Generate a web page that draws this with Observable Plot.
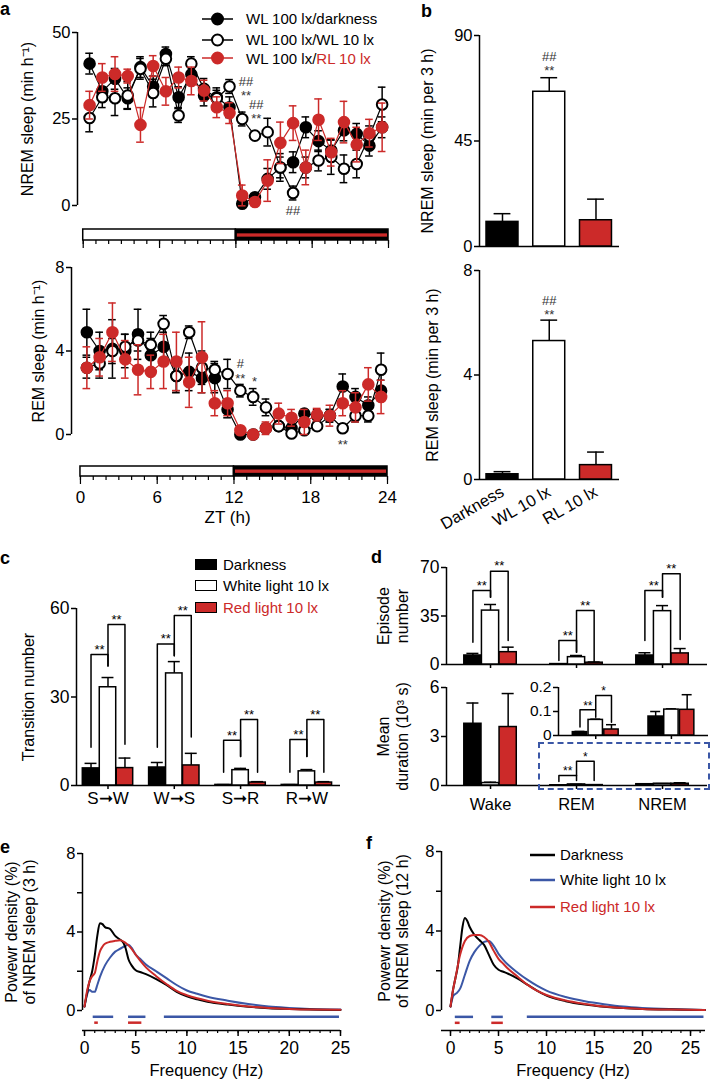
<!DOCTYPE html>
<html><head><meta charset="utf-8">
<script src="https://cdn.jsdelivr.net/npm/d3@7"></script>
<script src="https://cdn.jsdelivr.net/npm/@observablehq/plot@0.6"></script>
<style>
body{margin:0;background:#fff;}
#root{position:relative;width:711px;height:1086px;overflow:hidden;font-family:"Liberation Sans",Arial,Helvetica,sans-serif;color:#000;}
.plbl{position:absolute;font-weight:bold;font-size:18px;line-height:1;}
.leg{position:absolute;font-size:15px;line-height:1;white-space:nowrap;display:flex;align-items:center;}
.box{position:absolute;border:2px dashed #3b57a6;box-sizing:border-box;}
</style></head><body><div id="root"></div>
<script>
// ---------------- DATA ----------------
// Panel a: hourly sleep (ZT)
const ztHours = [0.5,1.5,2.5,3.5,4.5,5.5,6.5,7.5,8.5,9.5,10.5,11.5,12.5,13.5,14.5,15.5,16.5,17.5,18.5,19.5,20.5,21.5,22.5,23.5];
const nremDark    = [41,33,36.6,31,40,34.4,43.8,31.3,37.9,31.8,31.3,28.4,0.5,2.4,7.7,11,12.5,22.6,18.6,15.9,21.7,20.7,17.3,22.6];
const nremDarkErr = [3,3,3,3,3,3,2,3,3,3,2,3,1,1,3,3,3,3,3,3,3,3,3,3];
const nremWL      = [25.3,31.3,31,31.8,39.5,32.5,42.4,26,41,33.7,31,34.4,25,20.2,21.2,11,3.6,11,13,14,10.6,12,20,29.2];
const nremWLErr   = [4,3,5,4,3,4,2,2,2,3,3,2,2,1,4,4,2,3,3,5,4,4,3,5];
const nremRL      = [29,37,38,37.4,23.3,40.3,33,37,36,33.2,28.4,26.7,2.9,1,7.2,18.1,23.8,11,24.8,15.4,24.1,17.6,20.9,22.6];
const nremRLErr   = [4,4,5,2,5,3,4,3,4,3,3,3,3,1,6,6,5,5,6,4,6,5,4,7];
const remDark     = [4.9,4.0,4.1,4.0,4.8,3.8,4.2,2.8,3.0,2.7,2.7,1.2,0,0,0.3,0.4,0.3,1.0,0.9,0.9,2.3,1.8,1.4,2.1];
const remDarkErr  = [1.1,0.9,1.4,0.8,1.2,0.8,0.9,0.8,0.9,0.7,0.7,0.4,0.1,0.1,0.2,0.2,0.2,0.2,0.3,0.3,0.6,0.4,0.4,0.5];
const remWL       = [3.2,3.4,4.0,4.2,4.5,4.3,5.3,2.8,4.9,3.2,3.1,2.9,2.1,1.8,1.3,0.4,0.05,0.2,0.4,0.9,0.3,0.9,0.9,3.1];
const remWLErr    = [0.5,0.7,0.6,0.6,0.5,0.6,0.4,0.7,0.3,0.8,0.4,0.7,0.3,0.4,0.4,0.2,0.1,0.1,0.2,0.3,0.2,0.3,0.3,0.8];
const remRL       = [3.2,3.7,4.9,3.6,3.1,3.0,3.5,3.5,2.5,3.7,1.5,1.5,0.2,0.0,0.3,1.0,0.8,0.6,0.95,0.9,1.5,1.3,2.4,1.8];
const remRLErr    = [1.0,0.9,1.4,0.9,1.2,0.8,1.3,1.4,1.2,1.7,0.6,0.6,0.2,0.1,0.3,0.5,0.4,0.6,0.3,0.5,0.6,0.7,0.8,0.8];
const lightSchedule = [{start:0,end:12,phase:"light"},{start:12,end:24,phase:"dark"}];
const hourTicks = [0,1,2,3,4,5,6,7,8,9,10,11,12,13,14,15,16,17,18,19,20,21,22,23,24];
const ztMajorTicks = [0,6,12,18,24];
const aLegend = ["WL 100 lx/darkness","WL 100 lx/WL 10 lx","WL 100 lx/RL 10 lx"];
const aTopNotes = [{zt:12.8,v:35.6,t:"##"},{zt:12.8,v:31.6,t:"**"},{zt:13.6,v:29,t:"##"},{zt:13.6,v:25.1,t:"**"},{zt:16.5,v:-1.5,t:"##"}];
const aBotNotes = [{zt:12.5,v:3.4,t:"#"},{zt:12.5,v:2.65,t:"**"},{zt:13.6,v:2.5,t:"*"},{zt:20.5,v:-0.5,t:"**"}];

// Panel b: 3-h totals
const conditionsB = ["Darkness","WL 10 lx","RL 10 lx"];
const nremB = [10.5, 66, 11.2];
const nremBErr = [3.5, 6, 9];
const remB = [0.2, 5.3, 0.55];
const remBErr = [0.1, 0.8, 0.5];
const bTopNotes = [{i:1,v:80.8,t:"##"},{i:1,v:75,t:"**"}];
const bBotNotes = [{i:1,v:6.85,t:"##"},{i:1,v:6.3,t:"**"}];

// Panel c: transitions
const transitions = ["S\u279EW","W\u279ES","S\u279ER","R\u279EW"];
const condNamesC = ["Darkness","White light 10 lx","Red light 10 lx"];
const transDark = [5.8, 6.1, 0.2, 0.2];
const transDarkErr = [1.7, 1.7, 0.1, 0.1];
const transWhite = [33.3, 38, 5.2, 4.8];
const transWhiteErr = [3.3, 4, 0.6, 0.6];
const transRed = [5.9, 6.8, 1.0, 1.0];
const transRedErr = [3.4, 4.1, 0.3, 0.3];
const cBrackets = [
  {g:0,a:0,b:1,top:44.4,ya:13,yb:40.5,label:"**"},{g:0,a:1,b:2,top:54.6,ya:40.5,yb:14,label:"**"},
  {g:1,a:0,b:1,top:48,ya:13,yb:44,label:"**"},{g:1,a:1,b:2,top:57.6,ya:44,yb:16.4,label:"**"},
  {g:2,a:0,b:1,top:15.3,ya:4.5,yb:9.8,label:"**"},{g:2,a:1,b:2,top:22.4,ya:9.8,yb:4.5,label:"**"},
  {g:3,a:0,b:1,top:15.6,ya:4.5,yb:9.8,label:"**"},{g:3,a:1,b:2,top:22.4,ya:9.8,yb:4.5,label:"**"}];

// Panel d: episodes
const states = ["Wake","REM","NREM"];
const epDark = [6.5, 0.3, 6.5];
const epDarkErr = [1.5, 0.1, 2];
const epWhite = [38.9, 5.3, 38.5];
const epWhiteErr = [4.4, 1.2, 4];
const epRed = [8.9, 1.3, 8];
const epRedErr = [3.6, 0.5, 3.5];
const durDark = [3.78, 0.014, 0.079];
const durDarkErr = [1.27, 0.003, 0.021];
const durWhite = [0.15, 0.065, 0.108];
const durWhiteErr = [0.05, 0.003, 0.003];
const durRed = [3.58, 0.025, 0.107];
const durRedErr = [2.05, 0.02, 0.063];
const dTopBrackets = [
  {g:0,a:0,b:1,top:53.4,ya:16,yb:48.5,label:"**"},{g:0,a:1,b:2,top:67.3,ya:48.5,yb:17.3,label:"**"},
  {g:1,a:0,b:1,top:17.3,ya:2.9,yb:8.9,label:"**"},{g:1,a:1,b:2,top:39,ya:8.9,yb:1.9,label:"**"},
  {g:2,a:0,b:1,top:53.4,ya:17.3,yb:48.5,label:"**"},{g:2,a:1,b:2,top:65.4,ya:48.5,yb:18,label:"**"}];
const dBotBrackets = [{g:1,a:0,b:1,top:0.61,ya:0.25,yb:0.3,label:"**"},{g:1,a:1,b:2,top:1.49,ya:0.6,yb:0.3,label:"*"}];
const insetBrackets = [{g:1,a:0,b:1,top:0.107,ya:0.035,yb:0.076,label:"**"},{g:1,a:1,b:2,top:0.167,ya:0.11,yb:0.055,label:"*"}];

// Panels e, f: power spectra [Hz, %]
const eDark = [[0,0.2],[0.25,0.9],[0.5,1.5],[0.75,2.0],[1,2.8],[1.25,3.8],[1.5,4.45],[1.75,4.4],[2,4.25],[2.5,4.15],[3,3.8],[3.5,3.6],[3.8,3.45],[4,3.2],[4.3,2.6],[4.6,2.3],[5,2.05],[5.5,1.95],[6,1.85],[7,1.6],[8,1.3],[9,0.95],[10,0.72],[11,0.57],[12,0.45],[14,0.3],[16,0.19],[18,0.12],[20,0.08],[22,0.05],[25,0.03]];
const eWhite = [[0,0.2],[0.25,0.8],[0.5,1.05],[0.75,0.95],[1,0.95],[1.25,1.3],[1.5,1.7],[2,2.3],[2.5,2.7],[3,3.0],[3.5,3.15],[4,3.3],[4.3,3.35],[4.6,3.2],[5,2.85],[5.5,2.6],[6,2.35],[7,2.0],[8,1.65],[9,1.3],[10,1.02],[11,0.85],[12,0.7],[14,0.5],[16,0.33],[18,0.2],[20,0.13],[22,0.08],[25,0.05]];
const eRed = [[0,0.2],[0.25,1.0],[0.5,1.5],[0.75,1.75],[1,1.9],[1.25,2.5],[1.5,3.0],[1.75,3.25],[2,3.4],[2.5,3.5],[3,3.55],[3.5,3.58],[4,3.45],[4.5,3.2],[5,2.85],[5.5,2.5],[6,2.2],[7,1.75],[8,1.35],[9,1.0],[10,0.78],[11,0.62],[12,0.5],[14,0.33],[16,0.2],[18,0.13],[20,0.08],[22,0.05],[25,0.04]];
const fDark = [[0,0.2],[0.25,1.0],[0.5,1.6],[0.75,2.2],[1,3.2],[1.25,4.2],[1.5,4.65],[1.75,4.5],[2,4.2],[2.5,3.8],[3,3.55],[3.5,3.3],[4,2.8],[4.5,2.3],[5,2.05],[5.5,1.95],[6,1.85],[7,1.6],[8,1.3],[9,1.0],[10,0.75],[12,0.47],[14,0.3],[16,0.19],[18,0.12],[20,0.08],[23,0.05],[26.5,0.03]];
const fWhite = [[0,0.2],[0.3,0.75],[0.7,0.9],[1,1.1],[1.5,1.8],[2,2.5],[2.5,2.95],[3,3.25],[3.5,3.45],[4,3.5],[4.5,3.25],[5,2.85],[5.5,2.55],[6,2.3],[7,1.9],[8,1.55],[9,1.25],[10,1.0],[12,0.68],[14,0.47],[16,0.32],[18,0.2],[20,0.13],[23,0.07],[26.5,0.03]];
const fRed = [[0,0.2],[0.25,1.0],[0.5,1.6],[1,2.8],[1.5,3.5],[2,3.75],[2.5,3.8],[3,3.8],[3.5,3.7],[4,3.45],[4.5,3.0],[5,2.6],[5.5,2.35],[6,2.1],[7,1.7],[8,1.3],[9,1.0],[10,0.78],[12,0.5],[14,0.33],[16,0.2],[18,0.13],[20,0.08],[23,0.05],[26.5,0.03]];
const eWhiteSig = [[0.85,2.85],[4.3,6.0],[7.8,24.9]];
const eRedSig = [[1.0,1.35],[4.3,5.6]];
const fWhiteSig = [[0.5,2.4],[4.3,5.5],[8.0,26.4]];
const fRedSig = [[0.5,1.0],[4.3,5.5]];
const freqMajor = [0,5,10,15,20,25];
const eFreqMinor = [0,1,2,3,4,5,6,7,8,9,10,11,12,13,14,15,16,17,18,19,20,21,22,23,24,25];
const fFreqMinor = [0,1,2,3,4,5,6,7,8,9,10,11,12,13,14,15,16,17,18,19,20,21,22,23,24,25,26];
const spectraLegend = ["Darkness","White light 10 lx","Red light 10 lx"];

// ---------------- STYLE / HELPERS ----------------
const FONT = '"Liberation Sans", Arial, Helvetica, sans-serif';
const RED = "#cc2a29";
const BLUE = "#3b57a6";
const FILLS = ["black","white",RED];
const YT = 16.5;   // y tick label size
const XT = 17.5;   // numeric x tick label size
const root = document.getElementById("root");
const baseStyle = {background:"transparent", overflow:"visible", fontFamily: FONT, fontSize:"16px", color:"black"};
function place(el, left, top) {
  el.style.position = "absolute"; el.style.left = left + "px"; el.style.top = top + "px";
  root.appendChild(el);
}
function html(str, cls, left, top) {
  const d = document.createElement("div"); d.className = cls; d.innerHTML = str;
  d.style.left = left + "px"; d.style.top = top + "px";
  root.appendChild(d); return d;
}
const blank = () => "";
const plain = d => String(d);
const sw = 1.5;

function hourlyRows(vals, errs) { return ztHours.map((zt, i) => ({zt, v: vals[i], e: errs[i]})); }
function hourlyMarks(rows, color, fill) {
  return [
    Plot.line(rows, {x:"zt", y:"v", stroke: color, strokeWidth: 1.2}),
    Plot.ruleX(rows, {x:"zt", y1: d => d.v - d.e, y2: d => d.v + d.e, stroke: color, strokeWidth: 1.5}),
    Plot.ruleY(rows, {y: d => d.v + d.e, x1: d => d.zt - 0.3, x2: d => d.zt + 0.3, stroke: color, strokeWidth: 1.5}),
    Plot.ruleY(rows, {y: d => d.v - d.e, x1: d => d.zt - 0.3, x2: d => d.zt + 0.3, stroke: color, strokeWidth: 1.5}),
    Plot.dot(rows, {x:"zt", y:"v", r: 5.3, fill, stroke: color, strokeWidth: 2})
  ];
}
function lightBarMarks(y1, y2, r1, r2) {
  return [
    Plot.rect(lightSchedule, {x1:"start", x2:"end", y1, y2, fill: d => d.phase === "light" ? "white" : "black", stroke:"black", strokeWidth: 1.5}),
    Plot.rect(lightSchedule.filter(d => d.phase === "dark"), {x1:"start", x2:"end", y1: r1, y2: r2, fill: RED, insetLeft: 1.5, insetRight: 1})
  ];
}
function groupedRows(n, vals, errs) {
  const rows = [];
  for (let g = 0; g < n; g++) vals.forEach((arr, c) => rows.push({g, c, v: arr[g], e: errs[c][g]}));
  return rows;
}
function groupedBarMarks(rows, off, hw, cap) {
  const cx = d => d.g + (d.c - 1) * off;
  return [
    Plot.ruleX(rows, {x: cx, y1: "v", y2: d => d.v + d.e, strokeWidth: sw}),
    Plot.ruleY(rows, {y: d => d.v + d.e, x1: d => cx(d) - cap, x2: d => cx(d) + cap, strokeWidth: sw}),
    Plot.rect(rows, {x1: d => cx(d) - hw, x2: d => cx(d) + hw, y1: 0, y2: "v", fill: d => FILLS[d.c], stroke: "black", strokeWidth: sw})
  ];
}
function bracketMarks(br, off, fontSize = 13, dy = -5) {
  const px = (g, c) => g + (c - 1) * off;
  const pts = br.flatMap((b, i) => [
    {id:i, x:px(b.g,b.a), y:b.ya}, {id:i, x:px(b.g,b.a), y:b.top},
    {id:i, x:px(b.g,b.b), y:b.top}, {id:i, x:px(b.g,b.b), y:b.yb}]);
  return [
    Plot.line(pts, {x:"x", y:"y", z:"id", stroke:"black", strokeWidth: sw}),
    Plot.text(br, {x: b => (px(b.g,b.a) + px(b.g,b.b)) / 2, y: "top", text: "label", dy, fontSize})
  ];
}
function yTitle(label, x, y, dx, lineHeight = 1.15) {
  return Plot.text([label], {x, y, dx, rotate: -90, fontSize: 16, lineHeight, textAnchor: "middle", lineAnchor: "middle"});
}
function yAxis(ticks, extra = {}) {
  return Plot.axisY({ticks, tickFormat: plain, tickSize: 5, tickPadding: 2, label: null, strokeWidth: sw, fontSize: YT, ...extra});
}

// ---------------- PANEL a (top: NREM) ----------------
{
  const AX = -0.45;
  const p = Plot.plot({
    width: 400, height: 250, marginLeft: 77, marginRight: 12, marginTop: 32, marginBottom: 10,
    x: {domain: [AX, 24]}, y: {domain: [-10.12, 50]}, style: baseStyle,
    marks: [
      Plot.ruleX([AX], {y1: 0, y2: 50, strokeWidth: sw}),
      yAxis([0,25,50]),
      yTitle("NREM sleep (min h\u207B\u00B9)", AX, 25, -50),
      ...lightBarMarks(-10.12, -6.94, -8.2, -9.15),
      Plot.axisX({ticks: hourTicks, tickSize: 4, tickFormat: blank, label: null, strokeWidth: 1.2}),
      Plot.axisX({ticks: ztMajorTicks, tickSize: 8, tickFormat: blank, label: null, strokeWidth: 1.2}),
      ...hourlyMarks(hourlyRows(nremDark, nremDarkErr), "black", "black"),
      ...hourlyMarks(hourlyRows(nremWL, nremWLErr), "black", "white"),
      ...hourlyMarks(hourlyRows(nremRL, nremRLErr), RED, RED),
      Plot.text(aTopNotes, {x:"zt", y:"v", text:"t", fontSize: 13, fill:"#333"})
    ]
  });
  place(p, 0, 0);
}
// ---------------- PANEL a (bottom: REM) ----------------
{
  const AX = -0.7;
  const p = Plot.plot({
    width: 400, height: 290, marginLeft: 71, marginRight: 13, marginTop: 17, marginBottom: 64,
    x: {domain: [AX, 24]}, y: {domain: [-2.012, 8]}, style: baseStyle,
    marks: [
      Plot.ruleX([AX], {y1: 0, y2: 8, strokeWidth: sw}),
      yAxis([0,4,8]),
      yTitle("REM sleep (min h\u207B\u00B9)", AX, 4, -33),
      ...lightBarMarks(-2.012, -1.533, -1.70, -1.86),
      Plot.axisX({ticks: hourTicks, tickSize: 4, tickFormat: blank, label: null, strokeWidth: 1.2}),
      Plot.axisX({ticks: ztMajorTicks, tickSize: 8, tickPadding: 6, label: null, strokeWidth: 1.2, fontSize: 17}),
      Plot.text(["ZT (h)"], {x: 11.5, frameAnchor: "bottom", dy: 46, fontSize: 17}),
      ...hourlyMarks(hourlyRows(remDark, remDarkErr), "black", "black"),
      ...hourlyMarks(hourlyRows(remWL, remWLErr), "black", "white"),
      ...hourlyMarks(hourlyRows(remRL, remRLErr), RED, RED),
      Plot.text(aBotNotes, {x:"zt", y:"v", text:"t", fontSize: 13, fill:"#333"})
    ]
  });
  place(p, 0, 250);
}
// legend a
{
  const styles = [["black","black"],["black","white"],[RED,RED]];
  const tops = [18.3, 39.3, 57.5];
  aLegend.forEach((txt, i) => {
    const [c, f] = styles[i];
    const label = i === 2 ? 'WL 100 lx/<span style="color:' + RED + '">RL 10 lx</span>' : txt;
    html('<svg width="36" height="14" style="overflow:visible;margin-right:10px"><line x1="2" y1="7" x2="33" y2="7" stroke="' + c + '" stroke-width="1.5"/><circle cx="17.5" cy="7" r="5.5" fill="' + f + '" stroke="' + c + '" stroke-width="2"/></svg>' + label,
      "leg", 200, tops[i] - 7);
  });
}

// ---------------- PANEL b ----------------
{
  const OFFB = -0.492, ENDB = 2.503, HW = 0.342, CAP = 0.18;
  const rowsTop = conditionsB.map((c, i) => ({i, v: nremB[i], e: nremBErr[i]}));
  const rowsBot = conditionsB.map((c, i) => ({i, v: remB[i], e: remBErr[i]}));
  const barMarks = rows => [
    Plot.ruleX(rows, {x:"i", y1:"v", y2: d => d.v + d.e, strokeWidth: sw}),
    Plot.ruleY(rows, {y: d => d.v + d.e, x1: d => d.i - CAP, x2: d => d.i + CAP, strokeWidth: sw}),
    Plot.rect(rows, {x1: d => d.i - HW, x2: d => d.i + HW, y1: 0, y2: "v", fill: d => FILLS[d.i], stroke:"black", strokeWidth: sw})
  ];
  const top = Plot.plot({
    width: 311, height: 260, marginLeft: 79, marginRight: 92, marginTop: 35, marginBottom: 14,
    x: {domain: [OFFB, ENDB], axis: null}, y: {domain: [0, 90]}, style: baseStyle,
    marks: [
      Plot.ruleX([OFFB], {y1: 0, y2: 90, strokeWidth: sw}),
      Plot.ruleY([0], {x1: OFFB, x2: ENDB, strokeWidth: sw}),
      yAxis([0,45,90]),
      yTitle("NREM sleep (min per 3 h)", OFFB, 45, -52),
      ...barMarks(rowsTop),
      Plot.text(bTopNotes, {x:"i", y:"v", text:"t", fontSize: 13, fill:"#333"})
    ]
  });
  place(top, 400, 0);
  const bot = Plot.plot({
    width: 311, height: 300, marginLeft: 79, marginRight: 92, marginTop: 20, marginBottom: 71,
    x: {domain: [OFFB, ENDB]}, y: {domain: [0, 8]}, style: baseStyle,
    marks: [
      Plot.ruleX([OFFB], {y1: 0, y2: 8, strokeWidth: sw}),
      Plot.ruleY([0], {x1: OFFB, x2: ENDB, strokeWidth: sw}),
      yAxis([0,4,8]),
      Plot.axisX({ticks: [0,1,2], tickFormat: i => conditionsB[i], tickRotate: -30, tickSize: 0, tickPadding: 11, label: null, fontSize: 16.5}),
      yTitle("REM sleep (min per 3 h)", OFFB, 4, -47),
      ...barMarks(rowsBot),
      Plot.text(bBotNotes, {x:"i", y:"v", text:"t", fontSize: 13, fill:"#333"})
    ]
  });
  place(bot, 400, 250);
}

// ---------------- PANEL c ----------------
{
  const AX = -0.475, END = 3.507, OFF = 0.256, HW = 0.124, CAP = 0.09;
  const rows = groupedRows(4, [transDark, transWhite, transRed], [transDarkErr, transWhiteErr, transRedErr]);
  const p = Plot.plot({
    width: 360, height: 300, marginLeft: 76, marginRight: 20, marginTop: 68, marginBottom: 55,
    x: {domain: [AX, END]}, y: {domain: [0, 60]}, style: baseStyle,
    marks: [
      Plot.ruleX([AX], {y1: 0, y2: 60, strokeWidth: sw}),
      Plot.ruleY([0], {x1: AX, x2: END, strokeWidth: sw}),
      yAxis([0,30,60], {fontSize: 17.5}),
      Plot.axisX({ticks: [0,1,2,3], tickFormat: i => transitions[i], tickSize: 4, tickPadding: 2, label: null, strokeWidth: sw, fontSize: 17}),
      yTitle("Transition number", AX, 30, -48),
      ...groupedBarMarks(rows, OFF, HW, CAP),
      ...bracketMarks(cBrackets, OFF)
    ]
  });
  place(p, 0, 540);
  const tops = [565, 586, 608];
  condNamesC.forEach((n, i) => {
    html('<span style="display:inline-block;width:20px;height:9px;border:1.5px solid #000;background:' + FILLS[i] + ';margin-right:6px"></span><span style="color:' + (i === 2 ? RED : "#000") + '">' + n + '</span>', "leg", 195, tops[i] - 8);
  });
}

// ---------------- PANEL d ----------------
{
  const AX = -0.512, END = 2.523, OFF = 0.205, HW = 0.1, CAP = 0.07;
  const rowsEp = groupedRows(3, [epDark, epWhite, epRed], [epDarkErr, epWhiteErr, epRedErr]);
  const top = Plot.plot({
    width: 351, height: 135, marginLeft: 86, marginRight: 4, marginTop: 27, marginBottom: 11,
    x: {domain: [AX, END]}, y: {domain: [0, 70]}, style: baseStyle,
    marks: [
      Plot.ruleX([AX], {y1: 0, y2: 70, strokeWidth: sw}),
      Plot.ruleY([0], {x1: AX, x2: END, strokeWidth: sw}),
      yAxis([0,35,70], {fontSize: 17.5}),
      Plot.axisX({ticks: [0,1,2], tickFormat: blank, tickSize: 4, label: null, strokeWidth: sw}),
      yTitle("Episode\nnumber", AX, 35, -54),
      ...groupedBarMarks(rowsEp, OFF, HW, CAP),
      ...bracketMarks(dTopBrackets, OFF)
    ]
  });
  place(top, 360, 540);
  const rowsDur = groupedRows(3, [durDark, durWhite, durRed], [durDarkErr, durWhiteErr, durRedErr]);
  const bot = Plot.plot({
    width: 351, height: 160, marginLeft: 86, marginRight: 4, marginTop: 12, marginBottom: 50,
    x: {domain: [AX, END]}, y: {domain: [0, 6]}, style: baseStyle,
    marks: [
      Plot.ruleX([AX], {y1: 0, y2: 6, strokeWidth: sw}),
      Plot.ruleY([0], {x1: AX, x2: END, strokeWidth: sw}),
      yAxis([0,3,6], {fontSize: 17.5}),
      Plot.axisX({ticks: [0,1,2], tickFormat: i => states[i], tickSize: 4, tickPadding: 9, label: null, strokeWidth: sw, fontSize: 16.5}),
      yTitle("Mean\nduration (10\u00B3 s)", AX, 3, -54),
      ...groupedBarMarks(rowsDur, OFF, HW, CAP),
      ...bracketMarks(dBotBrackets, OFF, 12, -4)
    ]
  });
  place(bot, 360, 675);
  // inset (REM and NREM durations magnified)
  const IAX = 0.508, IEND = 2.49, IOFF = 0.208, IHW = 0.095, ICAP = 0.066;
  const rowsIn = rowsDur.filter(d => d.g > 0);
  const inset = Plot.plot({
    width: 181, height: 70, marginLeft: 28, marginRight: 3, marginTop: 12, marginBottom: 10,
    x: {domain: [IAX, IEND]}, y: {domain: [0, 0.2]}, style: baseStyle,
    marks: [
      Plot.ruleX([IAX], {y1: 0, y2: 0.2, strokeWidth: sw}),
      Plot.ruleY([0], {x1: IAX, x2: IEND, strokeWidth: sw}),
      yAxis([0,0.1,0.2], {fontSize: 15.5}),
      Plot.axisX({ticks: [1,2], tickFormat: blank, tickSize: 4, label: null, strokeWidth: sw}),
      ...groupedBarMarks(rowsIn, IOFF, IHW, ICAP),
      ...bracketMarks(insetBrackets, IOFF, 12, -4)
    ]
  });
  place(inset, 530, 675);
  const bx = html("", "box", 538, 742); bx.style.width = "172px"; bx.style.height = "48px";
}

// ---------------- PANELS e, f ----------------
function spectrum(cfg) {
  const {AX, END, ml, mr, mt, yBottom, dark, white, red, whiteSig, redSig, minor, title, titleDx, freqX} = cfg;
  return Plot.plot({
    width: cfg.width, height: 256, marginLeft: ml, marginRight: mr, marginTop: mt, marginBottom: 56,
    x: {domain: [AX, END]}, y: {domain: [yBottom, 8]}, style: baseStyle,
    marks: [
      Plot.ruleX([AX], {y1: 0, y2: 8, strokeWidth: sw}),
      Plot.ruleY([yBottom], {x1: AX, x2: END, strokeWidth: sw}),
      Plot.axisY({ticks: [2,6], tickSize: 5, tickFormat: blank, label: null, strokeWidth: sw}),
      yAxis([0,4,8]),
      Plot.axisX({ticks: minor, tickSize: 3, tickFormat: blank, label: null, strokeWidth: 1.2}),
      Plot.axisX({ticks: freqMajor, tickFormat: plain, tickSize: 6, tickPadding: 5, label: null, strokeWidth: sw, fontSize: XT}),
      Plot.text(["Frequency (Hz)"], {x: freqX, frameAnchor: "bottom", dy: 45, fontSize: 16.5}),
      yTitle(title, AX, 4, titleDx, 1.12),
      Plot.ruleY(whiteSig, {x1: d => d[0], x2: d => d[1], y: -0.32, stroke: BLUE, strokeWidth: 2.5}),
      Plot.ruleY(redSig, {x1: d => d[0], x2: d => d[1], y: -0.62, stroke: RED, strokeWidth: 2.5}),
      Plot.line(white, {x: d => d[0], y: d => d[1], stroke: BLUE, strokeWidth: 2, curve: "monotone-x"}),
      Plot.line(dark, {x: d => d[0], y: d => d[1], stroke: "black", strokeWidth: 2, curve: "monotone-x"}),
      Plot.line(red, {x: d => d[0], y: d => d[1], stroke: RED, strokeWidth: 2, curve: "monotone-x"})
    ]
  });
}
place(spectrum({width: 360, AX: -0.195, END: 25, ml: 82, mr: 20, mt: 23, yBottom: -1.019,
  dark: eDark, white: eWhite, red: eRed, whiteSig: eWhiteSig, redSig: eRedSig, minor: eFreqMinor,
  title: "Powewr density (%)\nof NREM sleep (3 h)", titleDx: -62, freqX: 11.9}), 0, 830);
place(spectrum({width: 356, AX: -0.9375, END: 26.56, ml: 86, mr: 6, mt: 21, yBottom: -1.006,
  dark: fDark, white: fWhite, red: fRed, whiteSig: fWhiteSig, redSig: fRedSig, minor: fFreqMinor,
  title: "Powewr density (%)\nof NREM sleep (12 h)", titleDx: -48, freqX: 12.76}), 355, 830);
// legend f
{
  const cols = ["black", BLUE, RED];
  const ys = [855, 880, 907];
  spectraLegend.forEach((n, i) => {
    html('<svg width="26" height="4" style="overflow:visible;margin-right:4px"><line x1="0" y1="2" x2="25" y2="2" stroke="' + cols[i] + '" stroke-width="2.5"/></svg><span style="color:' + (i === 2 ? RED : "#000") + '">' + n + '</span>', "leg", 530, ys[i] - 8);
  });
}

// panel letters
[["a",0,0],["b",421,1.5],["c",0,549],["d",371,548],["e",0,837.5],["f",366,834]].forEach(([t,l,tp]) => html(t, "plbl", l, tp));
</script></body></html>
